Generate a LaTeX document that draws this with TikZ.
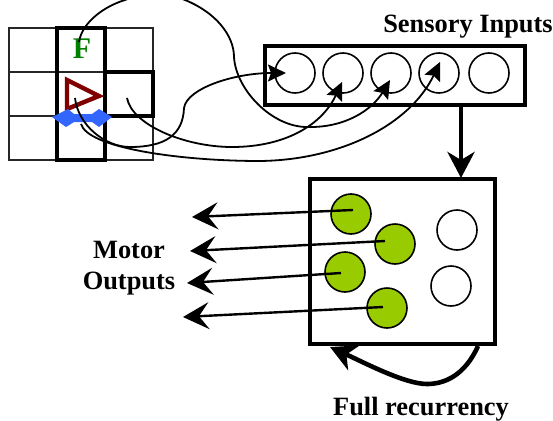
\documentclass[tikz,border=0pt]{standalone}
\usepackage{fontspec}
\setmainfont{Liberation Serif}
\usetikzlibrary{arrows.meta}

\begin{document}
\begin{tikzpicture}
                [x=1pt, y=-1pt,
                csty/.style={rectangle, draw=black!85, line width=1.3pt, minimum width=48pt, minimum height=44pt, inner sep=0pt},
                bsty/.style={rectangle, draw=black, line width=3.6pt, inner sep=0pt},
                nsty/.style={circle, draw=black, line width=1.6pt, fill=white, minimum size=40pt, inner sep=0pt},
                gsty/.style={nsty, fill={rgb,255:red,153;green,204;blue,0}},
                tsty/.style={font=\bfseries\fontsize{26.4}{31}\selectfont, align=center, inner sep=0pt},
                wsty/.style={line width=1.8pt, -{Stealth[length=18pt, width=17pt, inset=3pt]}},
                msty/.style={line width=2.4pt, -{Stealth[length=26pt, width=27pt, inset=10pt]}},
                fsty/.style={line width=4.6pt, -{Stealth[length=26pt, width=27pt, inset=8pt]}}]
                \useasboundingbox (0,0) rectangle (553,420);
                % grid
                \node[csty] (c11) at (33,50)   {};
                \node[csty] (c12) at (81,50)   {};
                \node[csty] (c13) at (129,50)  {};
                \node[csty] (c21) at (33,94)   {};
                \node[csty] (c22) at (81,94)   {};
                \node[csty] (c23) at (129,94)  {};
                \node[csty] (c31) at (33,138)  {};
                \node[csty] (c32) at (81,138)  {};
                \node[csty] (c33) at (129,138) {};
                \node[bsty, minimum width=48pt, minimum height=132pt] (col) at (81,94)  {};
                \node[bsty, minimum width=48pt, minimum height=44pt] (cell) at (129,94) {};
                \node[font=\bfseries\fontsize{30}{30}\selectfont, text={rgb,255:red,0;green,128;blue,0}, inner sep=0pt] (f) at (82,49) {F};
                % agent
                \draw[draw={rgb,255:red,128;green,0;blue,0}, line width=4.4pt, miter limit=3] (67,80) -- (99,96) -- (67,109) -- cycle;
                \fill[fill={rgb,255:red,51;green,102;blue,255}] (52,117) -- (68,109) -- (74,114) -- (92,114) -- (99,109) -- (112,117) -- (99,127) -- (92,122) -- (74,122) -- (66,127) -- cycle;
                % sensors
                \node[bsty, line width=4.2pt, minimum width=260pt, minimum height=59pt] (sens) at (395,75.5) {};
                \node[nsty] (s1) at (295,73) {};
                \node[nsty] (s2) at (343,73) {};
                \node[nsty] (s3) at (391,73) {};
                \node[nsty] (s4) at (439,73) {};
                \node[nsty] (s5) at (489,73) {};
                \node[tsty] (inputs) at (468,27) {Sensory Inputs};
                % network
                \node[bsty, line width=4.2pt, minimum width=185pt, minimum height=165pt] (net) at (402.5,261.5) {};
                \node[gsty] (m1) at (351,214) {};
                \node[gsty] (m2) at (395,244) {};
                \node[gsty] (m3) at (345,272) {};
                \node[gsty] (m4) at (387,308) {};
                \node[nsty] (h1) at (457,230) {};
                \node[nsty] (h2) at (451,286) {};
                \node[tsty] (outputs) at (129,268) {Motor\\Outputs};
                \node[tsty] (recur) at (421,409) {Full recurrency};
                % coordinates
                \coordinate (fs) at (79,42);
                \coordinate (ts) at (75,98);
                \coordinate (rs) at (127,98);
                \coordinate (bs) at (81,124);
                \coordinate (i1) at (286,73);
                \coordinate (i2) at (342,82);
                \coordinate (i3) at (390,80);
                \coordinate (i4) at (440,62);
                \coordinate (o1) at (192,217);
                \coordinate (o2) at (190,251);
                \coordinate (o3) at (187,283);
                \coordinate (o4) at (183,317);
                \coordinate (m1c) at (353,210);
                \coordinate (m2c) at (385,241);
                \coordinate (m3c) at (341,273);
                \coordinate (m4c) at (383,307);
                \coordinate (a) at (461,105);
                \coordinate (b) at (461,178);
                \coordinate (r1) at (478,346);
                \coordinate (r2) at (330,347);
                % wires
                \draw[wsty] (fs) .. controls (82,22) and (105,6) .. (125,0) .. controls (145,-8) and (165,-8) .. (185,0) .. controls (215,12) and (234,35) .. (234,57) .. controls (236,90) and (272,127) .. (307,127) .. controls (345,128) and (372,110) .. (i3);
                \draw[wsty] (ts) .. controls (78,125) and (105,147) .. (130,147) .. controls (165,147) and (183,135) .. (184,108) .. controls (187,88) and (235,73) .. (i1);
                \draw[wsty] (rs) .. controls (132,125) and (185,147) .. (232,147) .. controls (285,147) and (322,125) .. (i2);
                \draw[wsty] (bs) .. controls (88,148) and (180,161) .. (260,161) .. controls (340,160) and (410,125) .. (i4);
                \draw[fsty] (a) -- (b);
                % outputs and recurrency
                \draw[msty] (m1c) -- (o1);
                \draw[msty] (m2c) -- (o2);
                \draw[msty] (m3c) -- (o3);
                \draw[msty] (m4c) -- (o4);
                \draw[fsty] (r1) .. controls (465,375) and (445,384) .. (427,384) .. controls (405,384) and (365,363) .. (r2);
            \end{tikzpicture}
\end{document}
